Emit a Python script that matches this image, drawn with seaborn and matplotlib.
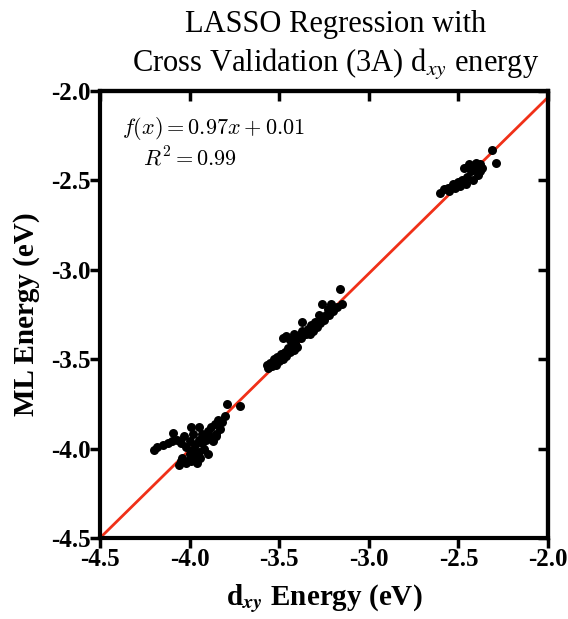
import matplotlib
matplotlib.use("Agg")
import matplotlib.pyplot as plt
import seaborn as sns
import pandas as pd

# ---- data ----
x_low = [-4.20, -4.18, -4.15, -4.12, -4.10, -4.09, -4.07, -4.05, -4.03, -4.02,
         -4.06, -4.05, -4.04, -4.02, -4.00, -4.00, -3.99, -3.98, -3.97, -3.97,
         -3.96, -3.95, -3.95, -3.94, -3.93, -3.93, -3.92, -3.91, -3.90, -3.90,
         -3.89, -3.88, -3.87, -3.86, -3.85, -3.84, -3.83, -3.82, -3.80, -3.79,
         -3.72, -3.95, -4.00, -3.98, -3.99, -3.85]
y_low = [-4.01, -3.99, -3.98, -3.97, -3.96, -3.91, -3.95, -3.97, -3.93, -3.99,
         -4.09, -4.07, -4.05, -4.08, -4.06, -4.03, -4.07, -4.01, -3.98, -4.04,
         -4.08, -3.95, -4.02, -4.05, -3.97, -3.92, -4.00, -3.95, -3.90, -4.03,
         -3.93, -3.88, -3.96, -3.86, -3.92, -3.84, -3.89, -3.85, -3.82, -3.75,
         -3.76, -3.88, -3.96, -3.92, -3.88, -3.93]
x_mid = [-3.57, -3.56, -3.55, -3.54, -3.53, -3.52, -3.51, -3.50, -3.49, -3.48,
         -3.47, -3.46, -3.45, -3.44, -3.43, -3.42, -3.41, -3.40, -3.48, -3.46,
         -3.44, -3.42, -3.40, -3.38, -3.37, -3.35, -3.34, -3.33, -3.32, -3.31,
         -3.30, -3.29, -3.28, -3.27, -3.26, -3.25, -3.24, -3.23, -3.22, -3.21,
         -3.20, -3.18, -3.16, -3.15, -3.37]
y_mid = [-3.53, -3.55, -3.52, -3.54, -3.50, -3.53, -3.49, -3.51, -3.47, -3.50,
         -3.46, -3.48, -3.44, -3.46, -3.43, -3.45, -3.41, -3.43, -3.38, -3.37,
         -3.39, -3.36, -3.37, -3.38, -3.34, -3.36, -3.33, -3.36, -3.31, -3.34,
         -3.29, -3.32, -3.25, -3.30, -3.19, -3.28, -3.25, -3.22, -3.25, -3.19,
         -3.23, -3.21, -3.11, -3.19, -3.29]
x_high = [-2.60, -2.58, -2.56, -2.55, -2.53, -2.52, -2.50, -2.49, -2.48, -2.47,
          -2.46, -2.45, -2.44, -2.43, -2.42, -2.41, -2.40, -2.39, -2.38, -2.38,
          -2.37, -2.31, -2.29]
y_high = [-2.57, -2.55, -2.54, -2.56, -2.52, -2.54, -2.51, -2.53, -2.50, -2.43,
          -2.52, -2.48, -2.41, -2.45, -2.50, -2.43, -2.40, -2.47, -2.45, -2.41,
          -2.43, -2.33, -2.40]

fit_slope = 0.986
fit_intercept = -0.063
ticks = [-4.5, -4.0, -3.5, -3.0, -2.5, -2.0]
tick_labels = ["-4.5", "-4.0", "-3.5", "-3.0", "-2.5", "-2.0"]

df = pd.DataFrame({"x": x_low + x_mid + x_high, "y": y_low + y_mid + y_high})

sns.set_theme(style="white")
plt.rcParams["font.family"] = ["Liberation Serif", "DejaVu Serif"]
plt.rcParams["mathtext.fontset"] = "stix"
for k in ["text.color", "axes.labelcolor", "xtick.color", "ytick.color", "axes.edgecolor"]:
    plt.rcParams[k] = "black"

fig = plt.figure(figsize=(5.68, 6.19), dpi=100)
ax = fig.add_axes([100 / 568, 81 / 619, 448 / 568, 447 / 619])

ax.axline((0, fit_intercept), slope=fit_slope, color="#f03018", lw=2, zorder=1)
sns.scatterplot(data=df, x="x", y="y", ax=ax, color="black", s=42,
                edgecolor="black", linewidth=0, zorder=2)

ax.set_xlim(-4.5, -2.0)
ax.set_ylim(-4.5, -2.0)
ax.set_xticks(ticks)
ax.set_yticks(ticks)
ax.set_xticklabels(tick_labels, fontsize=18, fontweight="bold")
ax.set_yticklabels(tick_labels, fontsize=18, fontweight="bold")
for sp in ax.spines.values():
    sp.set_linewidth(3)
    sp.set_color("black")
ax.tick_params(axis="both", which="major", direction="out", length=7, width=2.5,
               color="black", pad=0, bottom=True, left=True, top=False, right=False)

sec_x = ax.secondary_xaxis("top")
sec_x.set_xticks(ticks)
sec_x.tick_params(direction="in", length=7, width=2.5, labeltop=False)
sec_y = ax.secondary_yaxis("right")
sec_y.set_yticks(ticks)
sec_y.tick_params(direction="in", length=7, width=2.5, labelright=False)
for s in (sec_x, sec_y):
    for sp in s.spines.values():
        sp.set_linewidth(3)

ax.set_xlabel(r"d$_{\mathbfit{xy}}$ Energy (eV)", fontsize=21, fontweight="bold", labelpad=8)
ax.set_ylabel("ML Energy (eV)", fontsize=21, fontweight="bold", labelpad=8)
ax.set_title("LASSO Regression with\nCross Validation (3A) d$_{xy}$ energy",
             fontsize=22, linespacing=1.3, pad=14, x=0.525)

ax.text(0.05, 0.915, r"$f(x) = 0.97x + 0.01$", transform=ax.transAxes,
        fontsize=16, math_fontfamily="cm", va="center", ha="left")
ax.text(0.095, 0.848, r"$R^2 = 0.99$", transform=ax.transAxes,
        fontsize=16, math_fontfamily="cm", va="center", ha="left")

fig.savefig("out.png", dpi=100)
